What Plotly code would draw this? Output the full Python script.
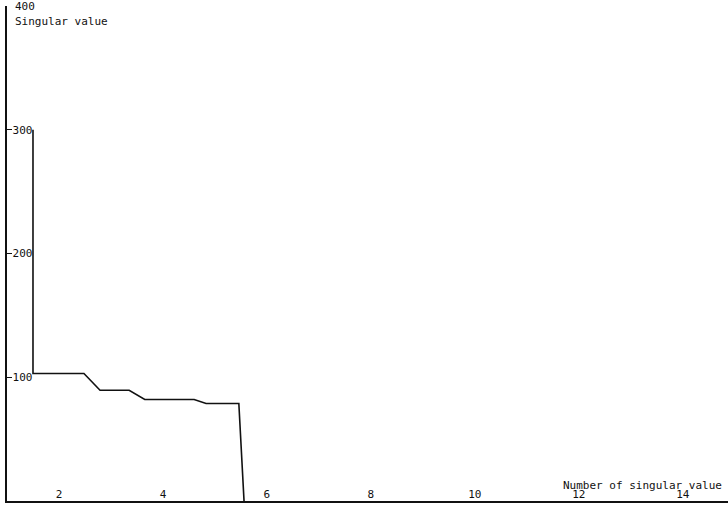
import plotly.graph_objects as go

# Curve vertices
x_vals = [1.5, 1.5, 2.48, 2.79, 3.35, 3.65, 4.6, 4.83, 5.46, 5.56]
y_vals = [300, 103, 103, 89.5, 89.5, 82, 82, 78.8, 78.8, 0]

x_ticks = [2, 4, 6, 8, 10, 12, 14]
y_ticks = [100, 200, 300, 400]

font = dict(family="DejaVu Sans Mono", size=11, color="#111")

fig = go.Figure()
fig.add_trace(go.Scatter(x=x_vals, y=y_vals, mode="lines",
                         line=dict(color="#111", width=1.6), showlegend=False))

# top tick label would be hidden at the plot edge, so draw it as an annotation
top_tick = y_ticks[-1]
tick_text = [str(v) for v in y_ticks[:-1]] + [""]

fig.update_layout(
    width=728, height=507,
    margin=dict(l=7, r=0, t=6, b=6),
    paper_bgcolor="white", plot_bgcolor="white",
    xaxis=dict(range=[1, 14.87], tickvals=x_ticks, ticktext=[str(v) for v in x_ticks],
               ticklabelposition="inside", ticks="", showgrid=False, zeroline=False,
               showline=True, linecolor="#111", linewidth=1.5, tickfont=font),
    yaxis=dict(range=[0, 400], tickvals=y_ticks, ticktext=tick_text,
               ticklabelposition="inside", ticks="inside", ticklen=5, tickcolor="#111",
               showgrid=False, zeroline=False,
               showline=True, linecolor="#111", linewidth=1.5, tickfont=font),
    annotations=[
        dict(text=str(top_tick), xref="paper", yref="y", x=0.009, y=top_tick,
             xanchor="left", yanchor="middle", showarrow=False, font=font),
        dict(text="Singular value", xref="paper", yref="paper", x=0.008, y=0.985,
             xanchor="left", yanchor="top", showarrow=False, font=font),
        dict(text="Number of singular value", xref="paper", yref="paper", x=0.995, y=0.014,
             xanchor="right", yanchor="bottom", showarrow=False, font=font),
    ],
)

fig.write_html("out.html", config={"displayModeBar": False},
               post_script="document.body.style.margin='0';")
